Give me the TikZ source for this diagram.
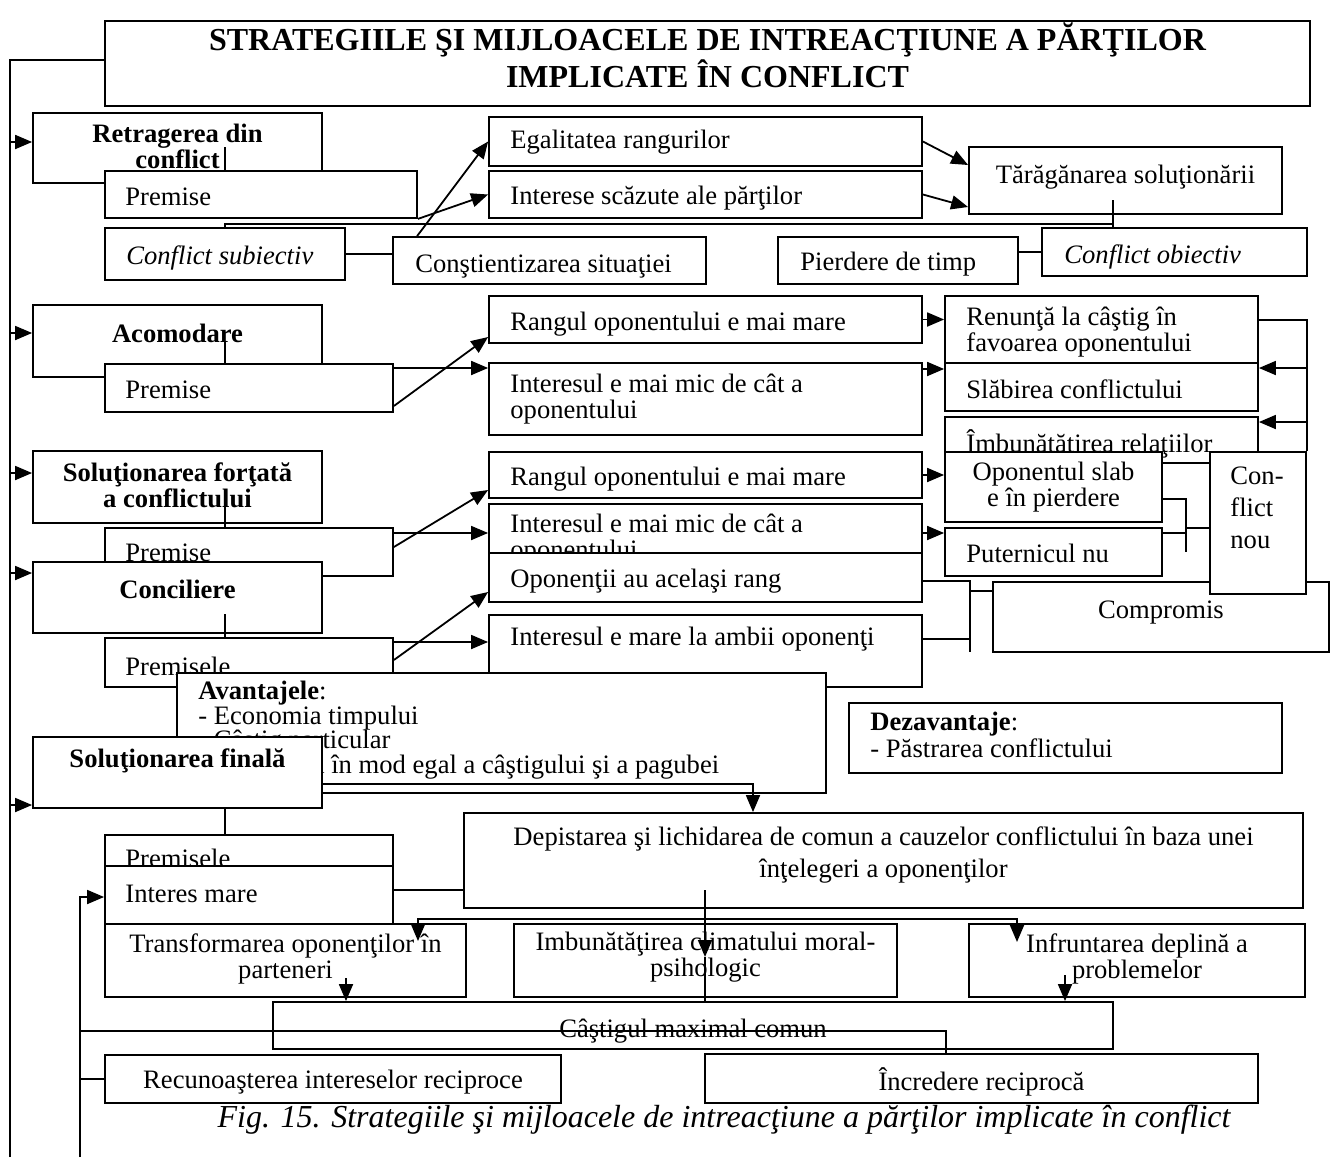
\documentclass[tikz,border=0pt]{standalone}
\usepackage{fontspec}
\setmainfont{Liberation Serif}
\usetikzlibrary{arrows.meta,positioning,calc,fit}
\newcommand{\fs}{\fontsize{13.3pt}{12.8pt}\selectfont\lineskiplimit=-20pt\relax}
\newcommand{\fsav}{\fontsize{13.3pt}{12.2pt}\selectfont\lineskiplimit=-20pt\relax}
\tikzset{
  box/.style={draw, fill=white, line width=0.9pt, inner sep=0pt},
  lt/.style={font=\fs, anchor=base west, inner sep=0pt, align=left},
  ct/.style={font=\fs, anchor=base, inner sep=0pt, align=center},
  bt/.style={ct, font=\fs\bfseries},
  ln/.style={line width=0.9pt},
  arr/.style={line width=0.9pt, -{Triangle[length=8.5pt,width=7pt]}},
}

\begin{document}
\begin{tikzpicture}[x=0.5pt, y=-0.5pt]
\useasboundingbox (0,0) rectangle (1332,1157);
\fill[white] (0,0) rectangle (1332,1157);

% trunks on the left
\coordinate (tr1) at (10,60);
\coordinate (tr1b) at (10,1157);
\coordinate (tr2) at (80,897);
\coordinate (tr2b) at (80,1157);

% title
\node[box, fit={(105,21) (1310,106)}] (title) {};
\node[ct, font=\fontsize{16pt}{18.5pt}\selectfont\bfseries] (title-t) at (title.center |- 0,87) {STRATEGIILE ŞI MIJLOACELE DE INTREACŢIUNE A PĂRŢILOR\\IMPLICATE ÎN CONFLICT};

% retragerea
\node[box, fit={(33,113) (322,183)}] (retr) {};
\node[bt] (retr-t) at (retr.center |- 0,168) {Retragerea din\\conflict};
\node[box, fit={(105,171) (417,218)}] (pr1) {};
\node[lt] (pr1-t) at (125,205) {Premise};
\draw[ln] (pr1.north -| 225,0) -- ++(0,-23);
\node[box, fit={(105,228) (345,280)}] (csub) {};
\node[lt, font=\fs\itshape] (csub-t) at (126,264) {Conflict subiectiv};
\node[box, fit={(393,237) (706,284)}] (const) {};
\node[lt] (const-t) at (415,272) {Conştientizarea situaţiei};
\node[box, fit={(489,117) (922,166)}] (egal) {};
\node[lt] (egal-t) at (510,148) {Egalitatea rangurilor};
\node[box, fit={(489,171) (922,218)}] (intsc) {};
\node[lt] (intsc-t) at (510,204) {Interese scăzute ale părţilor};
\node[box, fit={(969,147) (1282,214)}] (tarag) {};
\node[ct] (tarag-t) at (tarag.center |- 0,183) {Tărăgănarea soluţionării};
\node[box, fit={(778,237) (1018,284)}] (pierd) {};
\node[lt] (pierd-t) at (800,270) {Pierdere de timp};
\node[box, fit={(1042,228) (1307,276)}] (cobj) {};
\node[lt, font=\fs\itshape] (cobj-t) at (1064,263) {Conflict obiectiv};

\draw[ln] (csub.east) -- (const.west |- csub.east);
\draw[ln] (pierd.east |- cobj.west) -- (cobj.west);
\draw[ln] (csub.north -| 225,0) |- (1113,224);
\draw[ln] (1113,200) -- (cobj.north -| 1113,0);
\draw[arr] (pr1.south east) -- (intsc.west);
\draw[arr] ($(const.north west)+(25,0)$) -- (egal.west);
\draw[arr] (egal.east) -- (tarag.west |- 0,165);
\draw[arr] (intsc.east) -- (tarag.west |- 0,207);

% acomodare
\node[box, fit={(33,305) (322,377)}] (acom) {};
\node[bt] (acom-t) at (acom.center |- 0,342) {Acomodare};
\node[box, fit={(105,364) (393,412)}] (pr2) {};
\node[lt] (pr2-t) at (125,398) {Premise};
\draw[ln] (pr2.north -| 225,0) -- ++(0,-22);
\node[box, fit={(489,296) (922,343)}] (rang1) {};
\node[lt] (rang1-t) at (510,330) {Rangul oponentului e mai mare};
\node[box, fit={(489,363) (922,435)}] (int1) {};
\node[lt] (int1-t) at (510,418) {Interesul e mai mic de cât a\\oponentului};
\node[box, fit={(945,296) (1258,363)}] (ren) {};
\node[lt] (ren-t) at (966,351) {Renunţă la câştig în\\favoarea oponentului};
\node[box, fit={(945,363) (1258,411)}] (slab) {};
\node[lt] (slab-t) at (966,398) {Slăbirea conflictului};
\node[box, fit={(945,417) (1258,463)}] (imb) {};
\node[lt] (imb-t) at (966,452) {Îmbunătăţirea relaţiilor};

% solutionarea fortata
\node[box, fit={(33,451) (322,523)}] (sforc) {};
\node[bt] (sforc-t) at (sforc.center |- 0,507) {Soluţionarea forţată\\a conflictului};
\node[box, fit={(105,528) (393,576)}] (pr3) {};
\node[lt] (pr3-t) at (125,561) {Premise};
\draw[ln] (pr3.north -| 225,0) -- ++(0,-23);

% conciliere
\node[box, fit={(33,562) (322,633)}] (conc) {};
\node[bt] (conc-t) at (conc.center |- 0,598) {Conciliere};
\node[box, fit={(105,638) (393,687)}] (prem) {};
\node[lt] (prem-t) at (125,675) {Premisele};
\draw[ln] (prem.north -| 225,0) -- ++(0,-23);

\node[box, fit={(489,452) (922,498)}] (rang2) {};
\node[lt] (rang2-t) at (510,485) {Rangul oponentului e mai mare};
\node[box, fit={(489,504) (922,576)}] (int2) {};
\node[lt] (int2-t) at (510,558) {Interesul e mai mic de cât a\\oponentului};
\node[box, fit={(489,553) (922,602)}] (opon) {};
\node[lt] (opon-t) at (510,587) {Oponenţii au acelaşi rang};
\node[box, fit={(489,615) (922,687)}] (intm) {};
\node[lt] (intm-t) at (510,645) {Interesul e mare la ambii oponenţi};

\node[box, fit={(945,452) (1162,522)}] (opsl) {};
\node[ct] (opsl-t) at (opsl.center |- 0,506) {Oponentul slab\\e în pierdere};
\node[box, fit={(945,528) (1162,576)}] (put) {};
\node[lt] (put-t) at (966,562) {Puternicul nu};
\node[box, fit={(993,582) (1329,652)}] (comp) {};
\node[ct] (comp-t) at (comp.center |- 0,618) {Compromis};
\node[box, fit={(1210,452) (1306,594)}] (cnou) {};
\node[lt, font=\fontsize{13.3pt}{16pt}\selectfont] (cnou-t) at (1230,548) {Con-\\flict\\nou};

\draw[arr] (pr2.east |- 0,368) -- (int1.west |- 0,368);
\draw[arr] (pr2.east |- 0,406) -- (rang1.west |- 0,337);
\draw[arr] (rang1.east) -- (ren.west |- rang1.east);
\draw[arr] (int1.east |- 0,369) -- (slab.west |- 0,369);
\draw[ln] (ren.east |- 0,320) -| (cnou.north east);
\draw[arr] (cnou.north east |- 0,368) -- (slab.east |- 0,368);
\draw[arr] (cnou.north east |- 0,422) -- (imb.east |- 0,422);
\draw[arr] (pr3.east |- 0,533) -- (int2.west |- 0,533);
\draw[arr] (pr3.east |- 0,547) -- (rang2.west |- 0,490);
\draw[arr] (prem.east |- 0,642) -- (intm.west |- 0,642);
\draw[arr] (prem.east |- 0,660) -- (opon.west |- 0,592);
\draw[arr] (rang2.east |- 0,475) -- (opsl.west |- 0,475);
\draw[arr] (int2.east |- 0,533) -- (put.west |- 0,533);
\draw[ln] (opsl.east |- 0,499) -| (1186,552);
\draw[ln] (put.east |- 0,533) -- (1186,533);
\draw[ln] (1186,528) -- (cnou.west |- 0,528);
\draw[ln] (opon.east |- 0,581) -| (970,652);
\draw[ln] (intm.east |- 0,639) -- (970,639);
\draw[ln] (970,591) -- (comp.west |- 0,591);

% avantaje / dezavantaje
\node[box, fit={(177,673) (826,793)}] (avan) {};
\node[lt, font=\fsav] (avan-t) at (198,773) {\textbf{Avantajele}:\\- Economia timpului\\- Câştig particular\\- Împărţirea în mod egal a câştigului şi a pagubei};
\node[box, fit={(849,703) (1282,773)}] (dez) {};
\node[lt, font=\fontsize{13.3pt}{13.5pt}\selectfont] (dez-t) at (870,757) {\textbf{Dezavantaje}:\\- Păstrarea conflictului};

% solutionarea finala
\node[box, fit={(33,737) (322,808)}] (sfin) {};
\node[bt] (sfin-t) at (sfin.center |- 0,767) {Soluţionarea finală};
\node[box, fit={(105,835) (393,880)}] (prf) {};
\node[lt] (prf-t) at (125,867) {Premisele};
\node[box, fit={(105,866) (393,924)}] (imare) {};
\node[lt] (imare-t) at (125,902) {Interes mare};
\draw[ln] (sfin.south -| 225,0) -- (prf.north -| 225,0);
\node[box, fit={(464,813) (1303,908)}] (dep) {};
\node[ct, font=\fontsize{13.3pt}{16pt}\selectfont] (dep-t) at (dep.center |- 0,877) {Depistarea şi lichidarea de comun a cauzelor conflictului în baza unei\\înţelegeri a oponenţilor};
\node[box, fit={(105,924) (466,997)}] (transf) {};
\node[ct] (transf-t) at (transf.center |- 0,978) {Transformarea oponenţilor în\\parteneri};
\node[box, fit={(514,924) (897,997)}] (imbcl) {};
\node[ct] (imbcl-t) at (imbcl.center |- 0,976) {Imbunătăţirea climatului moral-\\psihologic};
\node[box, fit={(969,924) (1305,997)}] (infr) {};
\node[ct] (infr-t) at (infr.center |- 0,978) {Infruntarea deplină a\\problemelor};
\node[box, fit={(273,1002) (1113,1049)}] (ctig) {};
\node[ct] (ctig-t) at (ctig.center |- 0,1037) {Câştigul maximal comun};
\node[box, fit={(105,1055) (561,1103)}] (recun) {};
\node[ct] (recun-t) at (recun.center |- 0,1088) {Recunoaşterea intereselor reciproce};
\node[box, fit={(705,1054) (1258,1103)}] (incr) {};
\node[ct] (incr-t) at (incr.center |- 0,1090) {Încredere reciprocă};

\coordinate (j2) at (705,919);
\draw[arr] (sfin.east |- 0,784) -| (dep.north -| 753,0);
\draw[ln] (imare.east |- 0,890) -- (dep.west |- 0,890);
\draw[arr] (705,890) -- (705,957);
\draw[ln] (705,957) -- (ctig.north -| 705,0);
\draw[arr] (j2) -| (418,941);
\draw[arr] (j2) -| (1017,942);
\draw[arr] (346,978) -- (ctig.north -| 346,0);
\draw[arr] (1065,975) -- (ctig.north -| 1065,0);
\draw[ln] (tr2 |- 0,1031) -| (incr.north -| 946,0);

% trunk arrows
\draw[ln] (tr1b) -- (tr1) -- (title.west |- tr1);
\draw[arr] (tr1 |- 0,142) -- (retr.west |- 0,142);
\draw[arr] (tr1 |- 0,333) -- (acom.west |- 0,333);
\draw[arr] (tr1 |- 0,473) -- (sforc.west |- 0,473);
\draw[arr] (tr1 |- 0,573) -- (conc.west |- 0,573);
\draw[arr] (tr1 |- 0,805) -- (sfin.west |- 0,805);
\draw[arr] (tr2b) -- (tr2) -- (imare.west |- tr2);
\draw[ln] (tr2 |- recun.west) -- (recun.west);

% caption
\node[ct, font=\fontsize{16pt}{18pt}\selectfont\itshape] (cap) at (724,1127) {Fig. 15. Strategiile şi mijloacele de intreacţiune a părţilor implicate în conflict};
\end{tikzpicture}
\end{document}
